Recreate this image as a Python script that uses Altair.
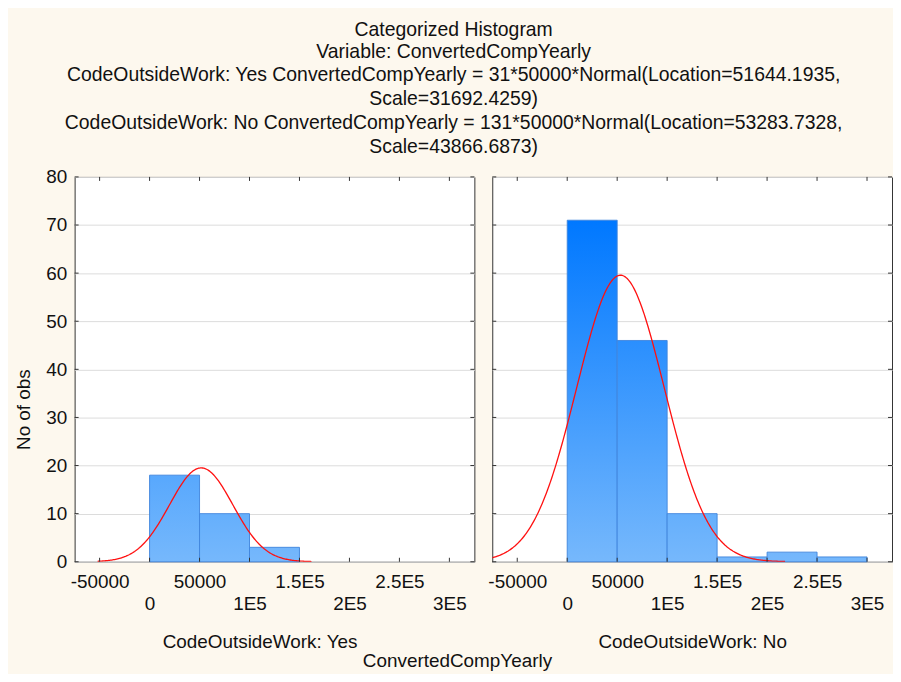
import altair as alt
import numpy as np
import pandas as pd

# ---------------- data ----------------
title_lines = ["Categorized Histogram", "Variable: ConvertedCompYearly"]
subtitle_lines = [
    "CodeOutsideWork: Yes ConvertedCompYearly = 31*50000*Normal(Location=51644.1935,",
    "Scale=31692.4259)",
    "CodeOutsideWork: No ConvertedCompYearly = 131*50000*Normal(Location=53283.7328,",
    "Scale=43866.6873)",
]
groups = ["Yes", "No"]
bin_lo = [0, 50000, 100000, 150000, 200000, 250000]
bin_width = 50000
counts_yes = [18, 10, 3, 0, 0, 0]
counts_no = [71, 46, 10, 1, 2, 1]
fit_n = [31, 131]
fit_loc = [51644.1935, 53283.7328]
fit_scale = [31692.4259, 43866.6873]
curve_lo = [-52000, -75000]
curve_hi = [162000, 218000]
x_ticks = [-50000, 0, 50000, 100000, 150000, 200000, 250000, 300000]
y_ticks = [0, 10, 20, 30, 40, 50, 60, 70, 80]
X_DOMAIN = [-75000, 325000]
Y_DOMAIN = [0, 80]

FONT = "Liberation Sans"
FS = 19
TFS = 19.5
W, H = 402, 387
TICK = 4

# gradient colours (light at bottom, darker with height)
C_BOTTOM = (118, 184, 252)
C_TOP71 = (0, 120, 255)


def col_at(v):
    t = v / 71.0
    c = [max(0, min(255, round(a + (b - a) * t))) for a, b in zip(C_BOTTOM, C_TOP71)]
    return "#%02x%02x%02x" % tuple(c)


lab = "(abs(datum.value) < 100000 ? (datum.value + '') : ((datum.value / 100000) + 'E5'))"
label_expr = f"datum.value % 100000 == 0 ? ['', {lab}] : {lab}"


def panel(gi, show_y):
    g = groups[gi]
    cnts = counts_yes if gi == 0 else counts_no
    bars = pd.DataFrame({
        "idx": list(range(len(bin_lo))),
        "lo": bin_lo,
        "hi": [b + bin_width for b in bin_lo],
        "count": cnts,
    })
    xs = np.arange(curve_lo[gi], curve_hi[gi] + 1, 1000.0)
    ys = fit_n[gi] * bin_width / (fit_scale[gi] * np.sqrt(2 * np.pi)) * np.exp(
        -0.5 * ((xs - fit_loc[gi]) / fit_scale[gi]) ** 2)
    curve = pd.DataFrame({"x": xs, "y": ys})
    xt = pd.DataFrame({"v": x_ticks})
    yt = pd.DataFrame({"v": y_ticks})

    xsc = alt.Scale(domain=X_DOMAIN, nice=False, zero=False)
    ysc = alt.Scale(domain=Y_DOMAIN, nice=False)
    xax = alt.Axis(values=x_ticks, labelExpr=label_expr, title=f"CodeOutsideWork: {g}",
                   labelOverlap=False, labelFlush=False, labelBound=False, grid=False,
                   ticks=False, domain=False, labelPadding=11, labelLineHeight=22,
                   titlePadding=19, titleX=(W / 2 - 15) if gi == 0 else W / 2)
    if show_y:
        yax = alt.Axis(values=y_ticks, grid=True, gridColor="#dcdcdc", ticks=False,
                       domain=False, title="No of obs", labelPadding=8, titlePadding=12,
                       titleY=H / 2 + 40)
    else:
        yax = alt.Axis(values=y_ticks, grid=True, gridColor="#dcdcdc", ticks=False,
                       domain=False, labels=False, title="")

    layers = []
    for i, c in enumerate(cnts):
        if c <= 0:
            continue
        grad = alt.LinearGradient(
            gradient="linear", x1=0, y1=0, x2=0, y2=1,
            stops=[alt.GradientStop(color=col_at(c), offset=0),
                   alt.GradientStop(color=col_at(0), offset=1)])
        layers.append(
            alt.Chart(bars).transform_filter(f"datum.idx == {i}")
            .mark_rect(fill=grad, stroke="#3f84dc", strokeWidth=1, strokeOpacity=0.9)
            .encode(x=alt.X("lo:Q", scale=xsc, axis=xax),
                    x2="hi:Q",
                    y=alt.Y("count:Q", scale=ysc, axis=yax),
                    y2=alt.datum(0))
        )
    layers.append(
        alt.Chart(curve).mark_line(color="#ff1010", strokeWidth=1.3, clip=True)
        .encode(x=alt.X("x:Q", scale=xsc, axis=xax), y=alt.Y("y:Q", scale=ysc, axis=yax))
    )
    # inward tick marks on all four frame sides
    for y0, y1 in [(H, H - TICK), (0, TICK)]:
        layers.append(
            alt.Chart(xt).mark_rule(color="#333", strokeWidth=1)
            .encode(x=alt.X("v:Q", scale=xsc, axis=xax), y=alt.value(y0), y2=alt.value(y1))
        )
    for x0, x1 in [(0, TICK), (W, W - TICK)]:
        layers.append(
            alt.Chart(yt).mark_rule(color="#333", strokeWidth=1)
            .encode(y=alt.Y("v:Q", scale=ysc, axis=yax), x=alt.value(x0), x2=alt.value(x1))
        )
    if show_y:
        layers.append(
            alt.Chart(pd.DataFrame({"t": ["ConvertedCompYearly"]}))
            .mark_text(fontSize=FS, font=FONT, align="center", baseline="middle", color="#111")
            .encode(x=alt.value(385), y=alt.value(H + 100), text="t:N")
        )
    return alt.layer(*layers).properties(width=W, height=H)


chart = alt.hconcat(panel(0, True), panel(1, False), spacing=18, bounds="flush").properties(
    title=alt.TitleParams(
        text=title_lines, subtitle=subtitle_lines, font=FONT, subtitleFont=FONT,
        fontSize=TFS, subtitleFontSize=TFS, fontWeight="normal", color="#111",
        subtitleColor="#111", lineHeight=22, subtitleLineHeight=24, subtitlePadding=4,
        anchor="middle", frame="bounds", offset=10),
    background="#fdf8ee",
    padding={"left": 6, "top": 10, "right": 0, "bottom": 0},
).configure_view(stroke="#333", strokeWidth=1, fill="white").configure_axis(
    labelFont=FONT, titleFont=FONT, labelFontSize=FS, titleFontSize=FS,
    titleFontWeight="normal", labelColor="#111", titleColor="#111")

chart.save("out.html", embed_options={"renderer": "svg", "actions": False})
